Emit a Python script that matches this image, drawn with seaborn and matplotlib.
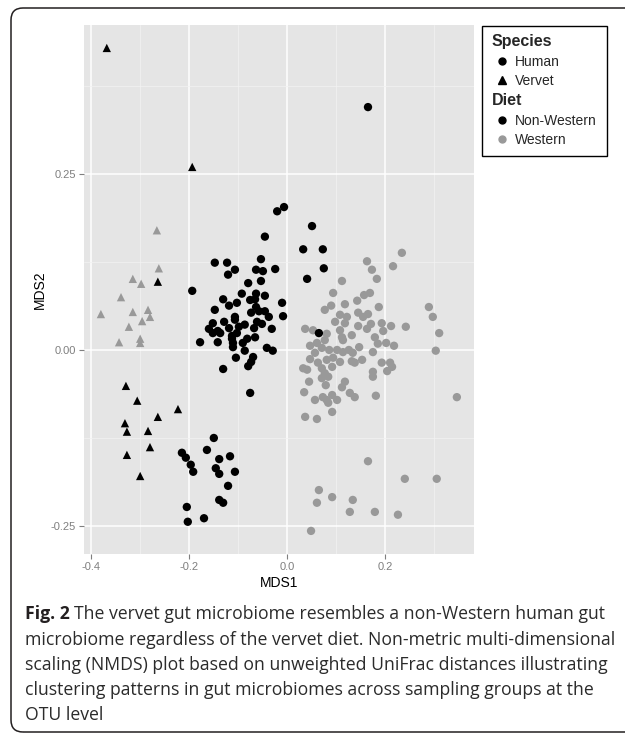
import matplotlib
matplotlib.use("Agg")
import matplotlib.pyplot as plt
from matplotlib.lines import Line2D
from matplotlib.patches import FancyBboxPatch, Rectangle
from matplotlib.transforms import IdentityTransform
import pandas as pd
import seaborn as sns

# ---- data (MDS1, MDS2) ----
human_west_x = [0.234, 0.216, 0.163, 0.173, 0.183, 0.112, 0.094, 0.157, 0.169, 0.143,
                0.118, 0.187, 0.090, 0.077, 0.108, 0.122, 0.145, 0.165, 0.155, 0.098,
                0.118, 0.171, 0.193, 0.212, 0.242, 0.145, 0.037, 0.053, 0.081, 0.108,
                0.112, 0.114, 0.132, 0.163, 0.196, 0.179, 0.185, 0.202, 0.218, 0.175,
                0.147, 0.047, 0.061, 0.077, 0.071, 0.057, 0.086, 0.102, 0.114, 0.126,
                0.134, 0.094, 0.081, 0.047, 0.063, 0.108, 0.132, 0.153, 0.138, 0.033,
                0.041, 0.071, 0.092, 0.077, 0.071, 0.084, 0.193, 0.210, 0.214, 0.204,
                0.175, 0.175, 0.045, 0.079, 0.118, 0.112, 0.035, 0.128, 0.138, 0.073,
                0.092, 0.081, 0.102, 0.057, 0.181, 0.084, 0.037, 0.061, 0.092, 0.289,
                0.297, 0.310, 0.303, 0.346, 0.165, 0.240, 0.305, 0.065, 0.061, 0.092,
                0.134, 0.128, 0.179, 0.226, 0.049]
human_west_y = [0.138, 0.119, 0.126, 0.114, 0.101, 0.098, 0.081, 0.078, 0.081, 0.070,
                0.065, 0.061, 0.063, 0.057, 0.050, 0.047, 0.053, 0.051, 0.047, 0.040,
                0.038, 0.037, 0.038, 0.034, 0.033, 0.034, 0.030, 0.028, 0.023, 0.028,
                0.018, 0.014, 0.021, 0.030, 0.027, 0.018, 0.009, 0.010, 0.006, -0.003,
                0.004, 0.006, 0.010, 0.014, 0.003, -0.004, 0.000, 0.000, -0.003, 0.000,
                -0.004, -0.011, -0.014, -0.013, -0.018, -0.017, -0.016, -0.014, -0.018, -0.026,
                -0.028, -0.026, -0.024, -0.033, -0.040, -0.038, -0.018, -0.018, -0.024, -0.030,
                -0.031, -0.038, -0.045, -0.050, -0.045, -0.053, -0.060, -0.061, -0.067, -0.067,
                -0.064, -0.071, -0.071, -0.071, -0.065, -0.075, -0.095, -0.098, -0.088, 0.061,
                0.047, 0.024, -0.001, -0.067, -0.158, -0.183, -0.183, -0.199, -0.217, -0.209,
                -0.213, -0.230, -0.230, -0.234, -0.257]

vervet_west_x = [-0.265, -0.261, -0.314, -0.297, -0.338, -0.314, -0.283, -0.379, -0.322, -0.295,
                 -0.279, -0.342, -0.299, -0.299]
vervet_west_y = [0.170, 0.116, 0.101, 0.094, 0.075, 0.054, 0.057, 0.051, 0.033, 0.041,
                 0.047, 0.011, 0.016, 0.010]

human_nonwest_x = [-0.020, -0.006, 0.051, -0.045, 0.033, 0.073, 0.075, 0.041, -0.053, -0.147,
                   -0.122, -0.106, -0.120, -0.063, -0.049, -0.024, -0.053, -0.079, -0.193, -0.130,
                   -0.092, -0.063, -0.045, -0.075, -0.065, -0.118, -0.102, -0.147, -0.063, -0.010,
                   -0.057, -0.045, -0.073, -0.037, -0.008, -0.106, -0.106, -0.128, -0.151, -0.061,
                   -0.051, -0.086, -0.098, -0.159, -0.141, -0.118, -0.031, -0.067, -0.151, -0.136,
                   -0.102, -0.177, -0.141, -0.112, -0.110, -0.090, -0.081, -0.065, -0.110, -0.086,
                   -0.041, -0.029, -0.104, -0.069, -0.073, -0.079, -0.130, -0.075, -0.112, 0.165,
                   0.065, -0.149, -0.214, -0.206, -0.196, -0.191, -0.163, -0.138, -0.116, -0.145,
                   -0.138, -0.106, -0.120, -0.138, -0.130, -0.204, -0.169, -0.202]
human_nonwest_y = [0.197, 0.203, 0.176, 0.161, 0.143, 0.143, 0.116, 0.101, 0.129, 0.124,
                   0.124, 0.114, 0.107, 0.114, 0.112, 0.115, 0.098, 0.095, 0.084, 0.072,
                   0.080, 0.080, 0.077, 0.071, 0.072, 0.063, 0.067, 0.057, 0.061, 0.067,
                   0.055, 0.055, 0.053, 0.047, 0.048, 0.047, 0.043, 0.040, 0.038, 0.040,
                   0.037, 0.036, 0.033, 0.030, 0.027, 0.031, 0.030, 0.031, 0.024, 0.024,
                   0.024, 0.011, 0.011, 0.016, 0.010, 0.010, 0.016, 0.018, 0.004, -0.001,
                   0.003, -0.001, -0.011, -0.010, -0.017, -0.023, -0.027, -0.061, 0.020, 0.345,
                   0.024, -0.125, -0.146, -0.153, -0.163, -0.173, -0.142, -0.155, -0.151, -0.168,
                   -0.176, -0.173, -0.193, -0.213, -0.217, -0.223, -0.239, -0.244]

vervet_nonwest_x = [-0.367, -0.193, -0.263, -0.328, -0.305, -0.222, -0.263, -0.330, -0.326, -0.283,
                    -0.279, -0.326, -0.299]
vervet_nonwest_y = [0.429, 0.260, 0.097, -0.051, -0.072, -0.084, -0.095, -0.104, -0.116, -0.115,
                    -0.138, -0.149, -0.179]

x_ticks = [-0.4, -0.2, 0.0, 0.2]
x_tick_labels = ["-0.4", "-0.2", "0.0", "0.2"]
y_ticks = [-0.25, 0.0, 0.25]
y_tick_labels = ["-0.25", "0.00", "0.25"]

caption_bold = "Fig. 2"
caption_lines = [
    "The vervet gut microbiome resembles a non-Western human gut",
    "microbiome regardless of the vervet diet. Non-metric multi-dimensional",
    "scaling (NMDS) plot based on unweighted UniFrac distances illustrating",
    "clustering patterns in gut microbiomes across sampling groups at the",
    "OTU level",
]

# ---- theme (ggplot2-like grey panel) ----
sns.set_theme(style="darkgrid", rc={
    "axes.facecolor": "#E5E5E5",
    "grid.color": "white",
    "figure.facecolor": "white",
})
plt.rcParams["font.family"] = ["Liberation Sans", "DejaVu Sans"]

frames = [
    pd.DataFrame({"MDS1": human_west_x, "MDS2": human_west_y, "Species": "Human", "Diet": "Western"}),
    pd.DataFrame({"MDS1": vervet_west_x, "MDS2": vervet_west_y, "Species": "Vervet", "Diet": "Western"}),
    pd.DataFrame({"MDS1": human_nonwest_x, "MDS2": human_nonwest_y, "Species": "Human", "Diet": "Non-Western"}),
    pd.DataFrame({"MDS1": vervet_nonwest_x, "MDS2": vervet_nonwest_y, "Species": "Vervet", "Diet": "Non-Western"}),
]
df = pd.concat(frames, ignore_index=True)

W, H = 625, 737
fig = plt.figure(figsize=(W / 100, H / 100), dpi=100)
ax = fig.add_axes([84 / W, 1 - 554 / H, 390 / W, 529 / H])

diet_colors = {"Non-Western": "black", "Western": "#999999"}
sns.scatterplot(data=df, x="MDS1", y="MDS2", hue="Diet", style="Species",
                palette=diet_colors, markers={"Human": "o", "Vervet": "^"},
                s=36, linewidth=0, legend=False, ax=ax, zorder=3)

ax.set_xlim(-0.4134, 0.3809)
ax.set_ylim(-0.2898, 0.4616)
ax.set_xticks(x_ticks)
ax.set_xticklabels(x_tick_labels)
ax.set_yticks(y_ticks)
ax.set_yticklabels(y_tick_labels)
ax.set_xticks([-0.3, -0.1, 0.1, 0.3], minor=True)
ax.set_yticks([-0.125, 0.125, 0.375], minor=True)
ax.grid(which="major", color="white", linewidth=1.1)
ax.grid(which="minor", color="#F2F2F2", linewidth=0.55)
ax.set_axisbelow(True)
for sp in ax.spines.values():
    sp.set_visible(False)
ax.tick_params(which="major", length=3.6, width=0.8, color="#7F7F7F",
               labelcolor="#7F7F7F", labelsize=8, pad=2,
               bottom=True, left=True)
ax.tick_params(which="minor", length=0)
ax.set_xlabel("MDS1", fontsize=10, color="black", labelpad=3)
ax.set_ylabel("MDS2", fontsize=10, color="black", labelpad=3)

# ---- legend box ----
fig.add_artist(Rectangle((482 / W, 1 - 156 / H), 125 / W, 130 / H, transform=fig.transFigure,
                         facecolor="white", edgecolor="black", linewidth=1.0, zorder=4))
species_handles = [
    Line2D([], [], marker="o", ls="none", color="black", markersize=5, label="Human"),
    Line2D([], [], marker="^", ls="none", color="black", markersize=5.5, label="Vervet"),
]
diet_handles = [
    Line2D([], [], marker="o", ls="none", color=diet_colors["Non-Western"], markersize=5, label="Non-Western"),
    Line2D([], [], marker="o", ls="none", color=diet_colors["Western"], markersize=5, label="Western"),
]
leg_kw = dict(loc="upper left", frameon=False, fontsize=10, alignment="left",
              title_fontproperties={"weight": "bold", "size": 11.5},
              borderpad=0, borderaxespad=0, handlelength=1.44, handletextpad=0.2,
              labelspacing=0.4)
leg1 = fig.legend(handles=species_handles, title="Species",
                  bbox_to_anchor=(492 / W, 1 - 34 / H), **leg_kw)
leg2 = fig.legend(handles=diet_handles, title="Diet",
                  bbox_to_anchor=(492 / W, 1 - 93 / H), **leg_kw)
for leg in (leg1, leg2):
    leg.set_zorder(5)

# ---- rounded outer frame ----
fig.add_artist(FancyBboxPatch((11, 5), 700, 724, boxstyle="round,pad=0,rounding_size=12",
                              transform=IdentityTransform(), facecolor="none",
                              edgecolor="#231F20", linewidth=1.1))

# ---- caption ----
cap_font = ["Open Sans", "DejaVu Sans"]
cap_size = 12.7
baselines = [619, 645, 670, 695, 720]
fig.canvas.draw()
renderer = fig.canvas.get_renderer()
bold = fig.text(25 / W, 1 - baselines[0] / H, caption_bold, family=cap_font, fontsize=cap_size,
                fontweight="bold", color="#231F20", va="baseline", ha="left")
bx = bold.get_window_extent(renderer).x1 + 4.5
for i, line in enumerate(caption_lines):
    x0 = bx / W if i == 0 else 25 / W
    fig.text(x0, 1 - baselines[i] / H, line, family=cap_font, fontsize=cap_size,
             color="#2B2B2B", va="baseline", ha="left")

fig.savefig("out.png", dpi=100)
